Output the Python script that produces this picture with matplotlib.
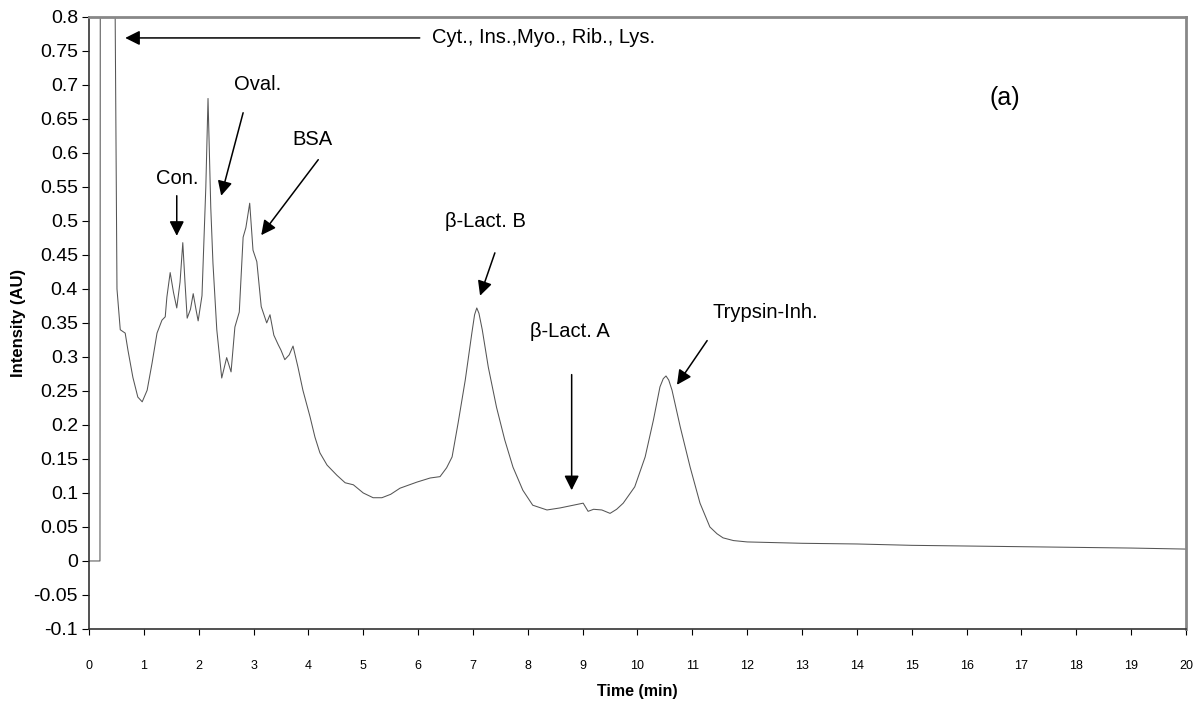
import numpy as np
import matplotlib
matplotlib.use("Agg")
import matplotlib.pyplot as plt

plt.rcParams['font.family'] = ['Liberation Sans', 'DejaVu Sans']

# %% chromatogram (time in min, intensity in AU)
time = [0.0, 0.2, 0.21, 0.42, 0.51, 0.57, 0.66, 0.71, 0.8, 0.89, 0.97,
        1.06, 1.15, 1.24, 1.33, 1.39, 1.42, 1.48, 1.54, 1.6, 1.66, 1.71,
        1.75, 1.79, 1.85, 1.9, 1.95, 1.99, 2.06, 2.13, 2.17, 2.22, 2.26,
        2.33, 2.42, 2.51, 2.59, 2.66, 2.74, 2.81, 2.86, 2.93, 2.99, 3.06,
        3.14, 3.24, 3.3, 3.37, 3.45, 3.5, 3.57, 3.65, 3.72, 3.81, 3.9, 4.03,
        4.12, 4.21, 4.34, 4.52, 4.67, 4.82, 5.0, 5.18, 5.34, 5.5, 5.67, 5.98,
        6.22, 6.4, 6.52, 6.62, 6.73, 6.86, 6.98, 7.03, 7.07, 7.11, 7.17,
        7.28, 7.43, 7.58, 7.73, 7.91, 8.09, 8.35, 8.59, 8.83, 9.01, 9.1,
        9.2, 9.35, 9.5, 9.62, 9.74, 9.95, 10.14, 10.29, 10.41, 10.47, 10.52,
        10.57, 10.63, 10.78, 10.96, 11.14, 11.32, 11.45, 11.56, 11.75, 12.0,
        13.0, 14.0, 15.0, 16.0, 17.0, 18.0, 19.0, 20.0]
intensity = [0.0, 0.0, 1.5, 1.5, 0.4, 0.34, 0.335, 0.31, 0.27, 0.241, 0.234,
             0.251, 0.291, 0.335, 0.354, 0.359, 0.388, 0.424, 0.395, 0.372,
             0.41, 0.468, 0.41, 0.357, 0.37, 0.393, 0.37, 0.353, 0.39, 0.55,
             0.68, 0.52, 0.438, 0.34, 0.269, 0.299, 0.278, 0.344, 0.366,
             0.476, 0.49, 0.526, 0.457, 0.44, 0.374, 0.35, 0.362, 0.332,
             0.318, 0.31, 0.296, 0.303, 0.316, 0.285, 0.251, 0.212, 0.182,
             0.159, 0.141, 0.126, 0.115, 0.112, 0.1, 0.093, 0.093, 0.098,
             0.107, 0.116, 0.122, 0.124, 0.137, 0.153, 0.203, 0.266, 0.335,
             0.362, 0.372, 0.364, 0.34, 0.285, 0.226, 0.178, 0.138, 0.104,
             0.082, 0.075, 0.078, 0.082, 0.085, 0.073, 0.076, 0.075, 0.07,
             0.076, 0.085, 0.109, 0.153, 0.207, 0.256, 0.268, 0.272, 0.266,
             0.251, 0.197, 0.138, 0.085, 0.05, 0.04, 0.034, 0.03, 0.028,
             0.026, 0.025, 0.023, 0.022, 0.021, 0.02, 0.019, 0.0175]

# peak labels: text, text position, arrow tail, arrow head
labels = ['Cyt., Ins.,Myo., Rib., Lys.', 'Oval.', 'BSA', 'Con.',
          'β-Lact. B', 'β-Lact. A', 'Trypsin-Inh.']
text_xy = [(6.25, 0.769), (3.08, 0.70), (4.08, 0.619), (1.6, 0.563),
           (7.22, 0.499), (8.77, 0.337), (12.33, 0.365)]
tail_xy = [(6.03, 0.769), (2.81, 0.659), (4.18, 0.59), (1.6, 0.537),
           (7.4, 0.453), (8.8, 0.274), (11.27, 0.324)]
head_xy = [(0.66, 0.769), (2.41, 0.537), (3.14, 0.479), (1.6, 0.478),
           (7.13, 0.39), (8.8, 0.104), (10.72, 0.259)]

# %% plot
fig = plt.figure(figsize=(11.93, 7.02), dpi=100)
ax = fig.add_axes([0.0746, 0.104, 0.9195, 0.872])
ax.plot(time, intensity, color='#555555', lw=0.75)

ax.set_xlim(0, 20)
ax.set_ylim(-0.1, 0.8)
ax.set_xticks(np.arange(0, 21, 1))
yt = np.arange(-0.1, 0.81, 0.05)
ax.set_yticks(yt)
ax.set_yticklabels(['%g' % round(v, 2) for v in yt])
ax.tick_params(axis='x', labelsize=9, length=4, pad=18)
ax.tick_params(axis='y', labelsize=14, length=5, pad=3)
ax.set_xlabel('Time (min)', fontsize=11.5, fontweight='bold', labelpad=9)
ax.set_ylabel('Intensity (AU)', fontsize=12, fontweight='bold', labelpad=5)

for side in ['top', 'right']:
    ax.spines[side].set_color('#888888')
    ax.spines[side].set_linewidth(2)
for side in ['left', 'bottom']:
    ax.spines[side].set_color('#333333')
    ax.spines[side].set_linewidth(1.2)

for k in range(len(labels)):
    ha = 'left' if k == 0 else 'center'
    ax.text(text_xy[k][0], text_xy[k][1], labels[k], fontsize=14.5,
            ha=ha, va='center')
    ax.annotate('', xy=head_xy[k], xytext=tail_xy[k],
                arrowprops=dict(arrowstyle='-|>', color='black', lw=1.1,
                                mutation_scale=22, shrinkA=0, shrinkB=0))

ax.text(16.7, 0.681, '(a)', fontsize=18, ha='center', va='center')

fig.savefig('out.png', dpi=100)
